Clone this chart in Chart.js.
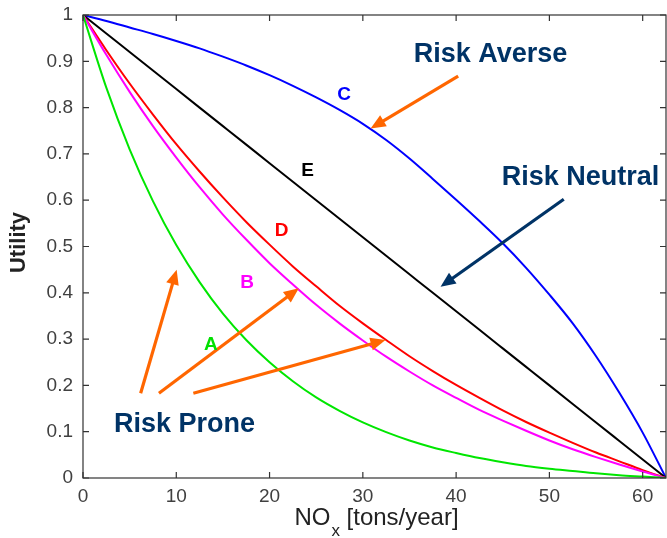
<!DOCTYPE html>
<html><head><meta charset="utf-8">
<script src="https://cdn.jsdelivr.net/npm/chart.js@4.4.0/dist/chart.umd.min.js"></script>
<style>html,body{margin:0;padding:0;background:#fff;overflow:hidden}canvas{display:block}</style>
</head><body>
<canvas id="c" width="667" height="538"></canvas>
<script>
// ---- data ----
const xValues = [0,2.5,5,7.5,10,12.5,15,17.5,20,22.5,25,27.5,30,32.5,35,37.5,40,42.5,45,47.5,50,52.5,55,57.5,60,62.5];
const seriesA = [1,0.843,0.710,0.598,0.503,0.423,0.355,0.298,0.250,0.209,0.174,0.145,0.120,0.099,0.081,0.066,0.054,0.043,0.034,0.026,0.020,0.015,0.010,0.006,0.003,0];
const seriesB = [1,0.914,0.834,0.760,0.692,0.628,0.569,0.515,0.464,0.418,0.374,0.334,0.297,0.262,0.230,0.200,0.173,0.147,0.124,0.102,0.081,0.062,0.045,0.029,0.014,0];
const seriesC = [1,0.987,0.973,0.959,0.944,0.928,0.910,0.891,0.870,0.847,0.822,0.795,0.765,0.730,0.690,0.646,0.601,0.555,0.507,0.454,0.396,0.334,0.263,0.184,0.098,0];
const seriesD = [1,0.924,0.852,0.785,0.721,0.662,0.606,0.553,0.504,0.457,0.414,0.372,0.334,0.298,0.263,0.231,0.201,0.173,0.146,0.121,0.098,0.076,0.055,0.036,0.017,0];
const seriesE = [1,0.96,0.92,0.88,0.84,0.80,0.76,0.72,0.68,0.64,0.60,0.56,0.52,0.48,0.44,0.40,0.36,0.32,0.28,0.24,0.20,0.16,0.12,0.08,0.04,0];
const xTicks = [0,10,20,30,40,50,60];
const yTicks = [0,0.1,0.2,0.3,0.4,0.5,0.6,0.7,0.8,0.9,1];
const xMin = 0, xMax = 62.5, yMin = 0, yMax = 1;
const yTitle = 'Utility';
const xTitleMain = 'NO', xTitleSub = 'x', xTitleRest = ' [tons/year]';

// ---- annotations (data coordinates) ----
const NAVY = '#003366', ORANGE = '#FF6600';
const curveLabels = [
  {text:'A', x:13.71, y:0.276, color:'#00E000'},
  {text:'B', x:17.6, y:0.410, color:'#FF00FF'},
  {text:'C', x:28.0, y:0.816, color:'#0000FF'},
  {text:'D', x:21.29, y:0.523, color:'#FF0000'},
  {text:'E', x:24.08, y:0.653, color:'#000000'}
];
const bigLabels = [
  {text:'Risk Averse', x:43.68, y:0.899},
  {text:'Risk Neutral', x:53.33, y:0.633},
  {text:'Risk Prone', x:10.88, y:0.100}
];
const arrows = [
  {x1:40.22, y1:0.868, x2:30.83, y2:0.755, color:ORANGE},
  {x1:6.18, y1:0.183, x2:10.04, y2:0.450, color:ORANGE},
  {x1:8.14, y1:0.183, x2:23.14, y2:0.410, color:ORANGE},
  {x1:11.83, y1:0.183, x2:32.43, y2:0.298, color:ORANGE},
  {x1:51.54, y1:0.602, x2:38.33, y2:0.413, color:NAVY}
];

const FONT = '"Liberation Sans", Arial, Helvetica, sans-serif';
const toPts = ys => xValues.map((x,i)=>({x:x, y:ys[i]}));

function drawArrow(ctx, x1, y1, x2, y2, color){
  const ang = Math.atan2(y2-y1, x2-x1);
  const hl = 15, hw = 6.5;
  const bx = x2 - hl*Math.cos(ang), by = y2 - hl*Math.sin(ang);
  ctx.strokeStyle = color; ctx.fillStyle = color; ctx.lineWidth = 3.2; ctx.lineCap='butt';
  ctx.beginPath(); ctx.moveTo(x1,y1); ctx.lineTo(bx + 2*Math.cos(ang), by + 2*Math.sin(ang)); ctx.stroke();
  ctx.beginPath();
  ctx.moveTo(x2,y2);
  ctx.lineTo(bx + hw*Math.sin(ang), by - hw*Math.cos(ang));
  ctx.lineTo(bx - hw*Math.sin(ang), by + hw*Math.cos(ang));
  ctx.closePath(); ctx.fill();
}

const overlay = {
  id:'overlay',
  afterDatasetsDraw(chart){
    const {ctx, chartArea:a, scales:{x, y}} = chart;
    ctx.save();
    ctx.strokeStyle = '#333'; ctx.lineWidth = 1.2;
    ctx.strokeRect(a.left, a.top, a.right - a.left, a.bottom - a.top);
    ctx.beginPath();
    xTicks.forEach(v=>{
      const px = x.getPixelForValue(v);
      ctx.moveTo(px, a.bottom); ctx.lineTo(px, a.bottom - 6);
      ctx.moveTo(px, a.top); ctx.lineTo(px, a.top + 6);
    });
    yTicks.forEach(v=>{
      const py = y.getPixelForValue(v);
      ctx.moveTo(a.left, py); ctx.lineTo(a.left + 6, py);
      ctx.moveTo(a.right, py); ctx.lineTo(a.right - 6, py);
    });
    ctx.stroke();
    arrows.forEach(ar=>drawArrow(ctx, x.getPixelForValue(ar.x1), y.getPixelForValue(ar.y1),
      x.getPixelForValue(ar.x2), y.getPixelForValue(ar.y2), ar.color));
    ctx.textAlign = 'center'; ctx.textBaseline = 'alphabetic';
    ctx.font = 'bold 19px ' + FONT;
    curveLabels.forEach(l=>{ ctx.fillStyle = l.color; ctx.fillText(l.text, x.getPixelForValue(l.x), y.getPixelForValue(l.y)); });
    ctx.font = 'bold 27px ' + FONT; ctx.fillStyle = NAVY;
    bigLabels.forEach(l=>ctx.fillText(l.text, x.getPixelForValue(l.x), y.getPixelForValue(l.y)));
    ctx.restore();
  },
  afterDraw(chart){
    const {ctx, chartArea:a} = chart;
    ctx.save();
    ctx.fillStyle = '#222';
    ctx.font = 'bold 22px ' + FONT;
    ctx.translate(19, (a.top + a.bottom)/2 - 4);
    ctx.rotate(-Math.PI/2);
    ctx.textAlign = 'center'; ctx.textBaseline = 'middle';
    ctx.fillText(yTitle, 0, 0);
    ctx.restore();
    ctx.save();
    ctx.fillStyle = '#222'; ctx.textBaseline = 'alphabetic'; ctx.textAlign = 'left';
    const mainFont = '24px ' + FONT, subFont = '17px ' + FONT;
    ctx.font = mainFont; const w1 = ctx.measureText(xTitleMain).width, w3 = ctx.measureText(xTitleRest).width;
    ctx.font = subFont; const w2 = ctx.measureText(xTitleSub).width;
    const total = w1 + 1 + w2 + w3;
    let sx = (a.left + a.right)/2 - total/2 + 2;
    const base = 525;
    ctx.font = mainFont; ctx.fillText(xTitleMain, sx, base); sx += w1 + 1;
    ctx.font = subFont; ctx.fillText(xTitleSub, sx, base + 11); sx += w2;
    ctx.font = mainFont; ctx.fillText(xTitleRest, sx, base);
    ctx.restore();
  }
};

const mk = (label, ys, color) => ({
  label, data: toPts(ys), borderColor: color, backgroundColor: color,
  borderWidth: 2, pointRadius: 0, fill: false, cubicInterpolationMode: 'monotone'
});

new Chart(document.getElementById('c'), {
  type: 'line',
  data: { datasets: [
    mk('A', seriesA, '#00E600'),
    mk('B', seriesB, '#FF00FF'),
    mk('D', seriesD, '#FF0000'),
    mk('E', seriesE, '#000000'),
    mk('C', seriesC, '#0000FF')
  ]},
  options: {
    responsive: false, animation: false, devicePixelRatio: 1,
    layout: { padding: { top: 15, right: 1, left: 0, bottom: 0 } },
    plugins: { legend: { display: false }, tooltip: { enabled: false } },
    scales: {
      x: {
        type: 'linear', min: xMin, max: xMax,
        afterBuildTicks: s => { s.ticks = xTicks.map(v=>({value:v})); },
        afterFit: s => { s.height = 60; s.paddingLeft = 0; s.paddingRight = 0; },
        grid: { display: false, drawTicks: false }, border: { display: false },
        ticks: { color: '#404040', padding: 7, maxRotation: 0, autoSkip: false,
          font: { family: FONT, size: 19 }, callback: v => String(v) }
      },
      y: {
        type: 'linear', min: yMin, max: yMax,
        afterBuildTicks: s => { s.ticks = yTicks.map(v=>({value:v})); },
        afterFit: s => { s.width = 83; s.paddingTop = 0; s.paddingBottom = 0; },
        grid: { display: false, drawTicks: false }, border: { display: false },
        ticks: { color: '#404040', padding: 10, autoSkip: false,
          font: { family: FONT, size: 19 }, callback: v => String(v) }
      }
    }
  },
  plugins: [overlay]
});
</script>
</body></html>
